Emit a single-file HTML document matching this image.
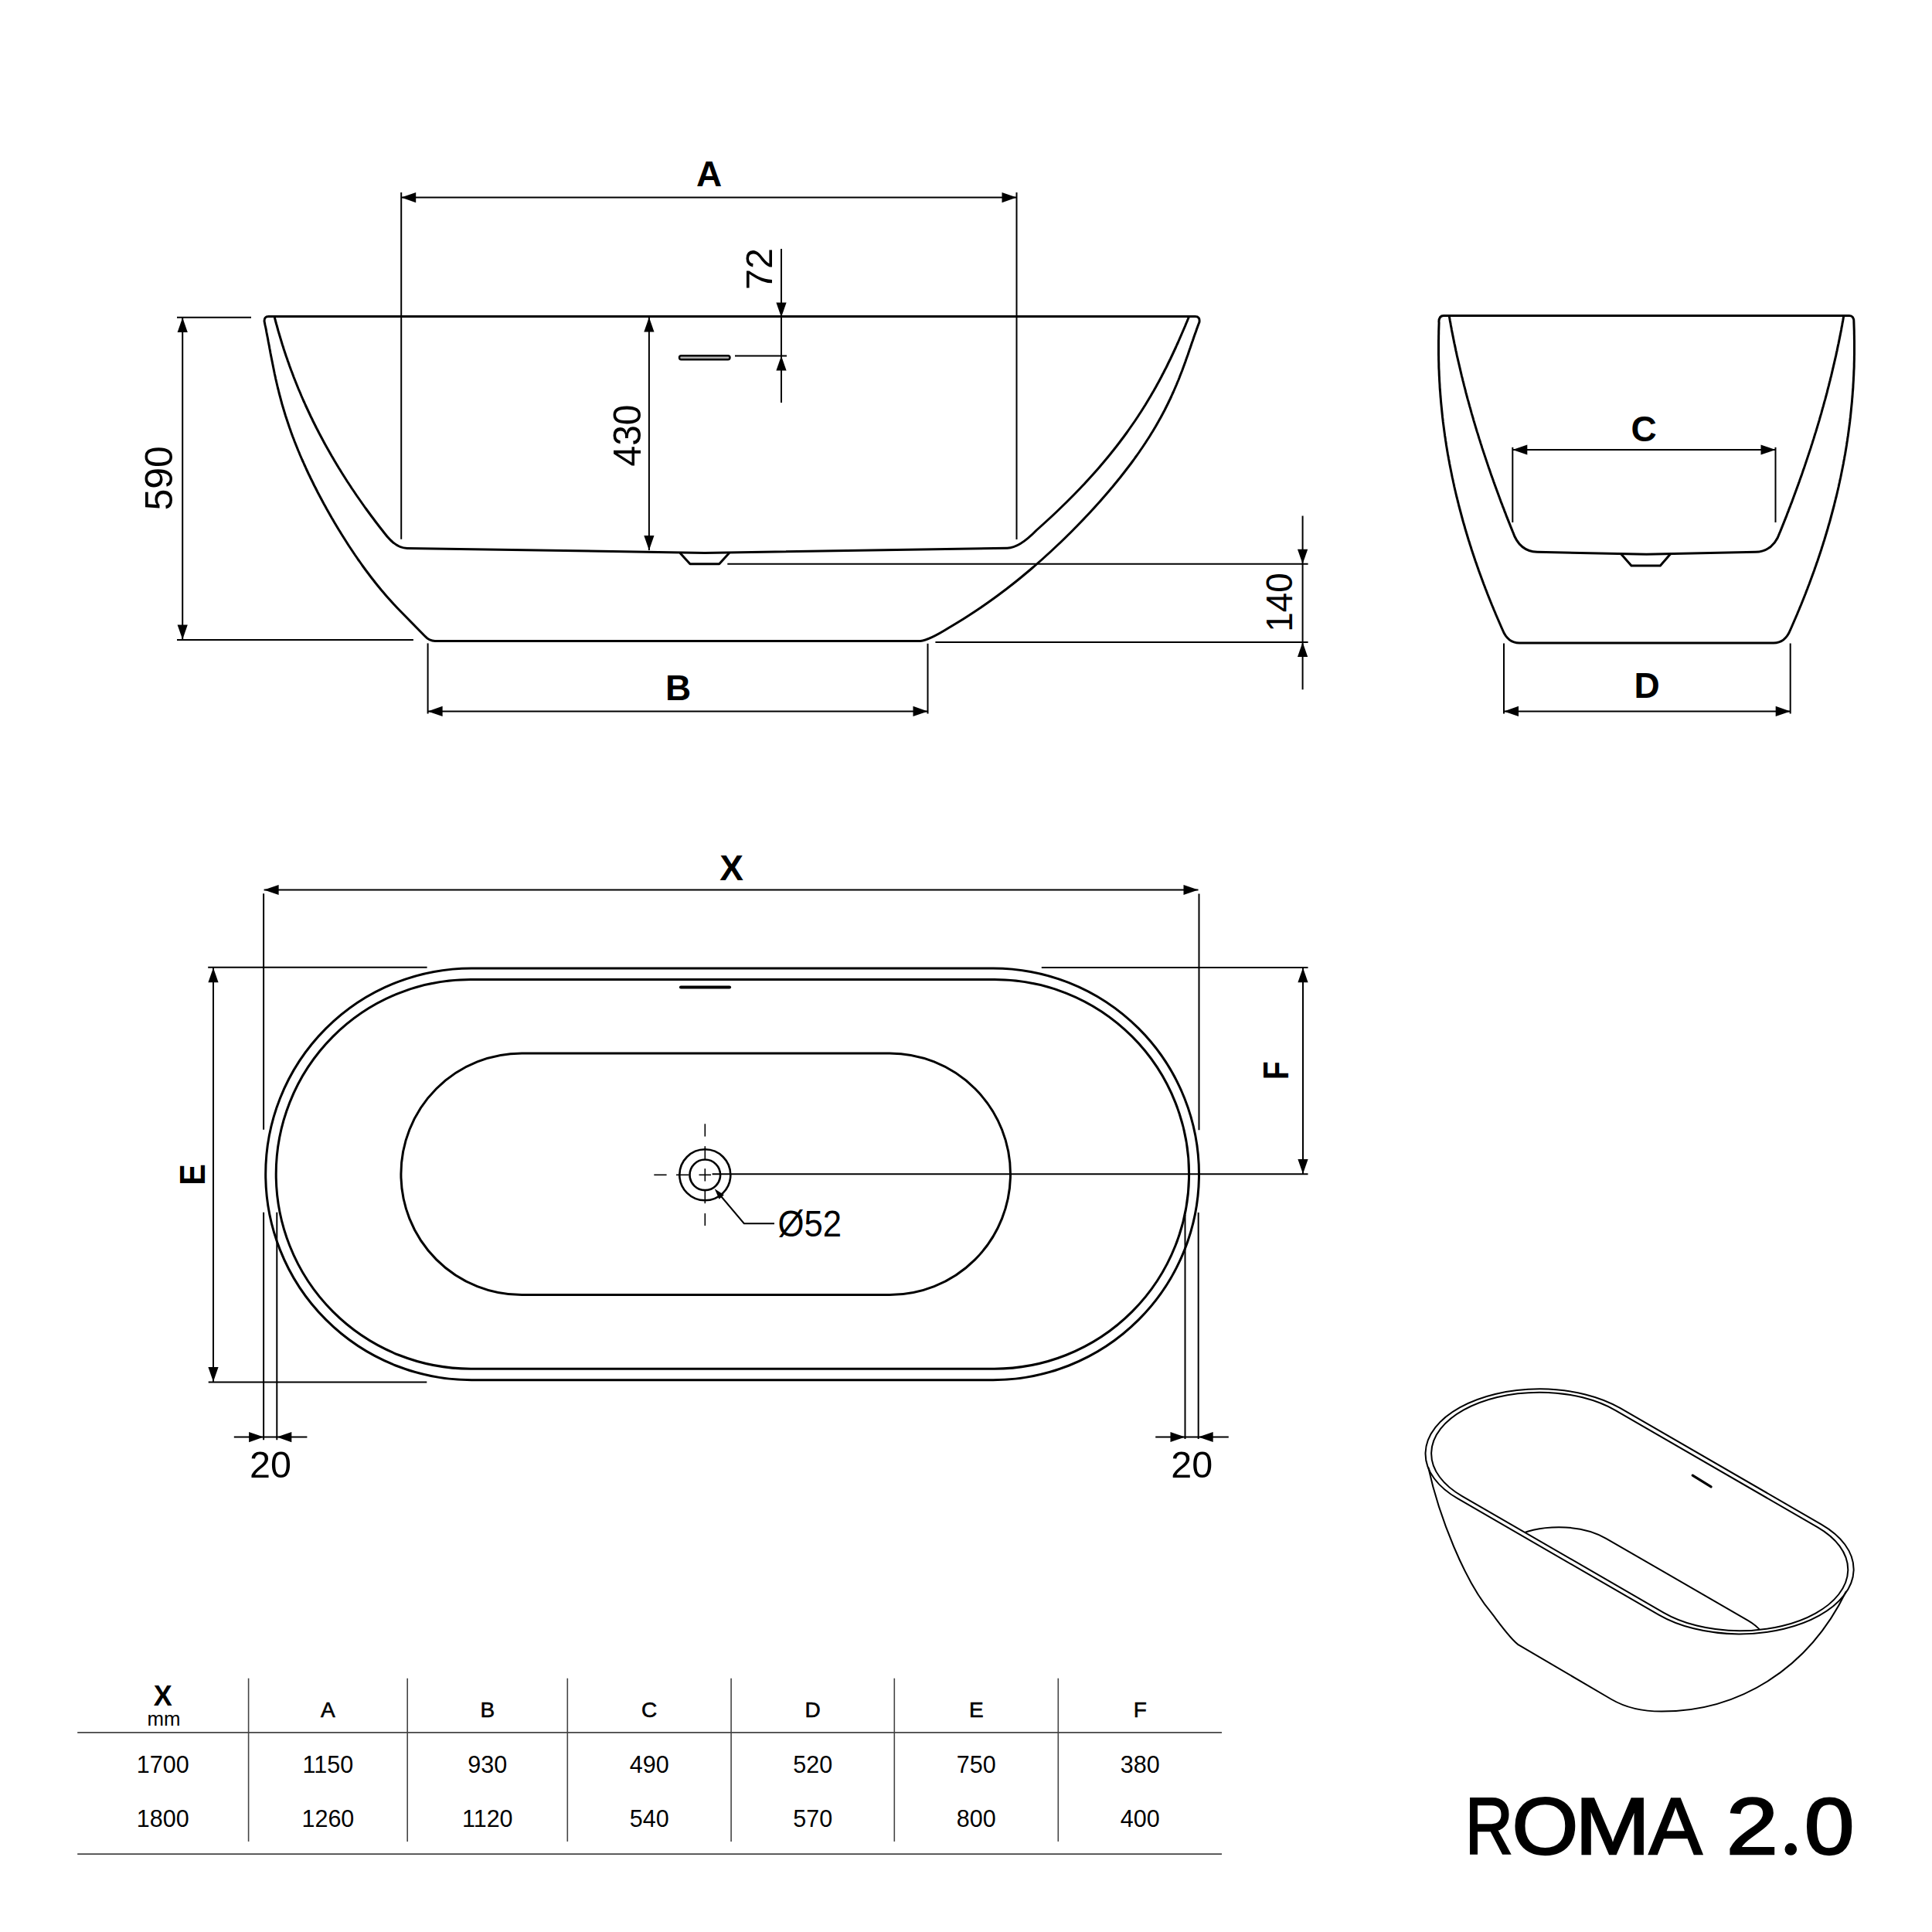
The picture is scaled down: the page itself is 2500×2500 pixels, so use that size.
<!DOCTYPE html>
<html><head><meta charset="utf-8"><style>
html,body{margin:0;padding:0;background:#fff;width:2500px;height:2500px;overflow:hidden}
svg{display:block}
.o{fill:none;stroke:#000;stroke-width:3;stroke-linejoin:round;stroke-linecap:round}
.d{fill:none;stroke:#000;stroke-width:2}
.c{fill:none;stroke:#000;stroke-width:1.6}
.s2{stroke:#000;stroke-width:2}
.s25{fill:none;stroke:#000;stroke-width:2.6}
.t3{fill:none;stroke:#000;stroke-width:2;stroke-linejoin:round;vector-effect:non-scaling-stroke}
.tb line{stroke:#444;stroke-width:1.6}
text{font-family:"Liberation Sans",sans-serif;fill:#000}
.hm{stroke:#000;stroke-width:0.6}
.ti{stroke:#000;stroke-width:2.4;stroke-linejoin:miter}
</style></head><body>
<svg width="2500" height="2500" viewBox="0 0 2500 2500">
<rect width="2500" height="2500" fill="#fff"/>
<path class="o" d="M342.1 416 Q341.6 409.5 347.5 409.5 L1546.5 409.5 Q1553.1 409.5 1551.9 417 L1551.9 417 L1550.7 420 L1549.6 423 L1548.5 426 L1547.5 429 L1546.4 432 L1545.3 435 L1544.3 438 L1543.3 441 L1542.2 444 L1541.2 447 L1540.2 450 L1539.1 453 L1538.1 456 L1537.1 459 L1536 462 L1534.9 465 L1533.9 468 L1532.8 471 L1531.7 474 L1530.6 477 L1529.5 480 L1528.3 483 L1527.1 486 L1526 489 L1524.8 492 L1523.5 495 L1522.3 498 L1521 501 L1519.7 504 L1518.4 507 L1517 510 L1515.7 513 L1514.3 516 L1512.8 519 L1511.4 522 L1509.9 525 L1508.4 528 L1506.9 531 L1505.3 534 L1503.7 537 L1502.1 540 L1500.4 543 L1498.7 546 L1497 549 L1495.3 552 L1493.5 555 L1491.7 558 L1489.8 561 L1488 564 L1486.1 567 L1484.1 570 L1482.2 573 L1480.2 576 L1478.2 579 L1476.1 582 L1474.1 585 L1472 588 L1469.8 591 L1467.7 594 L1465.5 597 L1463.3 600 L1461 603 L1458.7 606 L1456.4 609 L1454.1 612 L1451.7 615 L1449.4 618 L1446.9 621 L1444.5 624 L1442 627 L1439.6 630 L1437 633 L1434.5 636 L1431.9 639 L1429.3 642 L1426.7 645 L1424.1 648 L1421.4 651 L1418.7 654 L1416 657 L1413.2 660 L1410.5 663 L1407.7 666 L1404.8 669 L1402 672 L1399.1 675 L1396.2 678 L1393.3 681 L1390.3 684 L1387.4 687 L1384.4 690 L1381.3 693 L1378.3 696 L1375.2 699 L1372.1 702 L1368.9 705 L1365.7 708 L1362.5 711 L1359.3 714 L1356 717 L1352.7 720 L1349.4 723 L1346 726 L1342.6 729 L1339.2 732 L1335.7 735 L1332.2 738 L1328.6 741 L1325 744 L1321.4 747 L1317.7 750 L1314 753 L1310.2 756 L1306.3 759 L1302.5 762 L1298.5 765 L1294.5 768 L1290.5 771 L1286.4 774 L1282.2 777 L1278 780 L1273.7 783 L1269.4 786 L1264.9 789 L1260.4 792 L1255.8 795 L1251.2 798 L1246.5 801 L1241.6 804 L1236.7 807 L1231.7 810 L1228.3 812 Q1202 828.5 1191 829.4 L563 829.4 Q555.5 829.4 549.7 823 L517.3 790 L517.3 790 L514.4 787 L511.6 784 L508.8 781 L506.1 778 L503.4 775 L500.7 772 L498.1 769 L495.6 766 L493 763 L490.6 760 L488.1 757 L485.7 754 L483.4 751 L481 748 L478.7 745 L476.5 742 L474.2 739 L472 736 L469.8 733 L467.7 730 L465.6 727 L463.4 724 L461.4 721 L459.3 718 L457.3 715 L455.3 712 L453.3 709 L451.3 706 L449.4 703 L447.5 700 L445.6 697 L443.7 694 L441.8 691 L440 688 L438.1 685 L436.3 682 L434.5 679 L432.7 676 L431 673 L429.2 670 L427.5 667 L425.8 664 L424.1 661 L422.4 658 L420.8 655 L419.1 652 L417.5 649 L415.9 646 L414.3 643 L412.7 640 L411.1 637 L409.6 634 L408.1 631 L406.5 628 L405.1 625 L403.6 622 L402.1 619 L400.7 616 L399.2 613 L397.8 610 L396.4 607 L395.1 604 L393.7 601 L392.4 598 L391 595 L389.7 592 L388.4 589 L387.2 586 L385.9 583 L384.7 580 L383.5 577 L382.3 574 L381.1 571 L380 568 L378.8 565 L377.7 562 L376.6 559 L375.6 556 L374.5 553 L373.5 550 L372.5 547 L371.5 544 L370.5 541 L369.5 538 L368.6 535 L367.7 532 L366.8 529 L365.9 526 L365 523 L364.2 520 L363.4 517 L362.6 514 L361.8 511 L361 508 L360.3 505 L359.5 502 L358.8 499 L358.1 496 L357.4 493 L356.7 490 L356.1 487 L355.4 484 L354.8 481 L354.2 478 L353.6 475 L353 472 L352.4 469 L351.8 466 L351.2 463 L350.6 460 L350 457 L349.5 454 L348.9 451 L348.4 448 L347.8 445 L347.2 442 L346.7 439 L346.1 436 L345.5 433 L344.9 430 L344.4 427 L343.8 424 L343.1 421 L342.5 418 L342.1 416 Z"/>
<path class="o" d="M355.2 410 L355.9 413 L356.7 416 L357.5 419 L358.4 422 L359.2 425 L360 428 L360.9 431 L361.8 434 L362.7 437 L363.6 440 L364.5 443 L365.4 446 L366.4 449 L367.3 452 L368.3 455 L369.3 458 L370.3 461 L371.4 464 L372.4 467 L373.5 470 L374.5 473 L375.6 476 L376.7 479 L377.9 482 L379 485 L380.1 488 L381.3 491 L382.5 494 L383.7 497 L384.9 500 L386.1 503 L387.4 506 L388.7 509 L389.9 512 L391.2 515 L392.5 518 L393.9 521 L395.2 524 L396.6 527 L398 530 L399.4 533 L400.8 536 L402.2 539 L403.7 542 L405.1 545 L406.6 548 L408.1 551 L409.6 554 L411.2 557 L412.7 560 L414.3 563 L415.9 566 L417.5 569 L419.1 572 L420.7 575 L422.4 578 L424.1 581 L425.8 584 L427.5 587 L429.2 590 L431 593 L432.7 596 L434.5 599 L436.3 602 L438.1 605 L440 608 L441.8 611 L443.7 614 L445.6 617 L447.5 620 L449.4 623 L451.4 626 L453.4 629 L455.3 632 L457.4 635 L459.4 638 L461.4 641 L463.5 644 L465.6 647 L467.7 650 L469.8 653 L471.9 656 L474.1 659 L476.3 662 L478.5 665 L480.7 668 L483 671 L485.2 674 L487.5 677 L489.8 680 L492.1 683 L494.5 686 L496.8 689 L499.2 692 L500.8 694 Q513.6 709.4 527 709.4 L912 715.4 L1303.5 709.2 Q1319 709 1341.3 686 L1341.3 686 L1344.7 683 L1348 680 L1351.3 677 L1354.6 674 L1357.9 671 L1361.1 668 L1364.3 665 L1367.5 662 L1370.6 659 L1373.7 656 L1376.8 653 L1379.9 650 L1382.9 647 L1385.9 644 L1388.9 641 L1391.8 638 L1394.7 635 L1397.6 632 L1400.4 629 L1403.3 626 L1406 623 L1408.8 620 L1411.5 617 L1414.2 614 L1416.9 611 L1419.6 608 L1422.2 605 L1424.7 602 L1427.3 599 L1429.8 596 L1432.3 593 L1434.8 590 L1437.2 587 L1439.6 584 L1442 581 L1444.4 578 L1446.7 575 L1449 572 L1451.2 569 L1453.5 566 L1455.7 563 L1457.9 560 L1460 557 L1462.1 554 L1464.2 551 L1466.3 548 L1468.4 545 L1470.4 542 L1472.4 539 L1474.3 536 L1476.3 533 L1478.2 530 L1480.1 527 L1482 524 L1483.8 521 L1485.6 518 L1487.4 515 L1489.2 512 L1490.9 509 L1492.7 506 L1494.4 503 L1496.1 500 L1497.7 497 L1499.4 494 L1501 491 L1502.6 488 L1504.1 485 L1505.7 482 L1507.2 479 L1508.8 476 L1510.3 473 L1511.7 470 L1513.2 467 L1514.7 464 L1516.1 461 L1517.5 458 L1518.9 455 L1520.3 452 L1521.7 449 L1523 446 L1524.4 443 L1525.7 440 L1527 437 L1528.3 434 L1529.6 431 L1530.9 428 L1532.2 425 L1533.5 422 L1534.7 419 L1536 416 L1537.2 413 L1538.5 410"/>
<path class="o" d="M880.4 716 L892.9 729.7 L930.7 729.7 L943.2 716"/>
<rect x="879" y="460.2" width="65.5" height="5" rx="2.5" fill="#b0b0b0" stroke="#000" stroke-width="2.4"/>
<line class="d" x1="229" y1="410.8" x2="325" y2="410.8"/>
<line class="d" x1="229" y1="827.9" x2="534.9" y2="827.9"/>
<line class="d" x1="236.2" y1="411" x2="236.2" y2="827.6"/>
<path d="M236.2 411 L242.8 430 L229.6 430 Z"/>
<path d="M236.2 827.6 L229.6 808.6 L242.8 808.6 Z"/>
<text class="t" x="223" y="618.8" font-size="50" font-weight="400" text-anchor="middle" transform="rotate(-90 223 618.8)">590</text>
<line class="d" x1="519.2" y1="249" x2="519.2" y2="697.8"/>
<line class="d" x1="1315.5" y1="249" x2="1315.5" y2="698"/>
<line class="d" x1="519.2" y1="255.6" x2="1315.5" y2="255.6"/>
<path d="M519.2 255.6 L538.2 249 L538.2 262.2 Z"/>
<path d="M1315.5 255.6 L1296.5 262.2 L1296.5 249 Z"/>
<text class="b" x="917.7" y="240.7" font-size="46" font-weight="700" text-anchor="middle">A</text>
<line class="d" x1="839.9" y1="410.5" x2="839.9" y2="712"/>
<path d="M839.9 410.5 L846.5 429.5 L833.3 429.5 Z"/>
<path d="M839.9 712 L833.3 693 L846.5 693 Z"/>
<text class="t" x="829" y="563.5" font-size="50" font-weight="400" text-anchor="middle" transform="rotate(-90 829 563.5)" textLength="80" lengthAdjust="spacingAndGlyphs">430</text>
<line class="d" x1="1011" y1="322" x2="1011" y2="521"/>
<path d="M1011 410.5 L1004.4 391.5 L1017.6 391.5 Z"/>
<path d="M1011 460.5 L1017.6 479.5 L1004.4 479.5 Z"/>
<line class="d" x1="951" y1="460.5" x2="1018" y2="460.5"/>
<text class="t" x="998.5" y="348" font-size="48.5" font-weight="400" text-anchor="middle" transform="rotate(-90 998.5 348)">72</text>
<line class="d" x1="553.6" y1="832.4" x2="553.6" y2="923.5"/>
<line class="d" x1="1200.5" y1="832.8" x2="1200.5" y2="923.5"/>
<line class="d" x1="553.6" y1="920.4" x2="1200.5" y2="920.4"/>
<path d="M553.6 920.4 L572.6 913.8 L572.6 927 Z"/>
<path d="M1200.5 920.4 L1181.5 927 L1181.5 913.8 Z"/>
<text class="b" x="877.5" y="905.5" font-size="46" font-weight="700" text-anchor="middle">B</text>
<line class="d" x1="941.3" y1="729.8" x2="1692.6" y2="729.8"/>
<line class="d" x1="1210.4" y1="831" x2="1692.6" y2="831"/>
<line class="d" x1="1685.6" y1="667.5" x2="1685.6" y2="892.3"/>
<path d="M1685.6 729.8 L1679 710.8 L1692.2 710.8 Z"/>
<path d="M1685.6 831 L1692.2 850 L1679 850 Z"/>
<text class="t" x="1672" y="779.5" font-size="48.5" font-weight="400" text-anchor="middle" transform="rotate(-90 1672 779.5)" textLength="76.3" lengthAdjust="spacingAndGlyphs">140</text>
<path class="o" d="M1861.9 417 L1862.1 417 L1862 420 L1861.9 423 L1861.8 426 L1861.7 429 L1861.7 432 L1861.6 435 L1861.6 438 L1861.5 441 L1861.5 444 L1861.5 447 L1861.5 450 L1861.5 453 L1861.5 456 L1861.5 459 L1861.6 462 L1861.6 465 L1861.7 468 L1861.8 471 L1861.8 474 L1861.9 477 L1862.1 480 L1862.2 483 L1862.3 486 L1862.5 489 L1862.6 492 L1862.8 495 L1863 498 L1863.1 501 L1863.3 504 L1863.6 507 L1863.8 510 L1864 513 L1864.3 516 L1864.5 519 L1864.8 522 L1865.1 525 L1865.4 528 L1865.7 531 L1866 534 L1866.3 537 L1866.6 540 L1867 543 L1867.3 546 L1867.7 549 L1868.1 552 L1868.5 555 L1868.9 558 L1869.3 561 L1869.7 564 L1870.2 567 L1870.6 570 L1871.1 573 L1871.5 576 L1872 579 L1872.5 582 L1873 585 L1873.5 588 L1874.1 591 L1874.6 594 L1875.2 597 L1875.7 600 L1876.3 603 L1876.9 606 L1877.5 609 L1878.1 612 L1878.7 615 L1879.3 618 L1880 621 L1880.6 624 L1881.3 627 L1881.9 630 L1882.6 633 L1883.3 636 L1884 639 L1884.7 642 L1885.5 645 L1886.2 648 L1887 651 L1887.7 654 L1888.5 657 L1889.3 660 L1890.1 663 L1890.9 666 L1891.7 669 L1892.5 672 L1893.3 675 L1894.2 678 L1895.1 681 L1895.9 684 L1896.8 687 L1897.7 690 L1898.6 693 L1899.5 696 L1900.4 699 L1901.4 702 L1902.3 705 L1903.3 708 L1904.2 711 L1905.2 714 L1906.2 717 L1907.2 720 L1908.2 723 L1909.2 726 L1910.3 729 L1911.3 732 L1912.4 735 L1913.4 738 L1914.5 741 L1915.6 744 L1916.7 747 L1917.8 750 L1918.9 753 L1920 756 L1921.2 759 L1922.3 762 L1923.5 765 L1924.6 768 L1925.8 771 L1927 774 L1928.2 777 L1929.4 780 L1930.6 783 L1931.9 786 L1933.1 789 L1934.4 792 L1935.6 795 L1936.9 798 L1938.2 801 L1939.5 804 L1940.8 807 L1942.1 810 L1943.4 813 L1944.3 815 Q1951 832 1966 832 L2295 832 Q2310 832 2316.7 815 L2316.7 815 L2317.6 813 L2318.9 810 L2320.2 807 L2321.5 804 L2322.8 801 L2324.1 798 L2325.4 795 L2326.6 792 L2327.9 789 L2329.1 786 L2330.4 783 L2331.6 780 L2332.8 777 L2334 774 L2335.2 771 L2336.4 768 L2337.5 765 L2338.7 762 L2339.8 759 L2341 756 L2342.1 753 L2343.2 750 L2344.3 747 L2345.4 744 L2346.5 741 L2347.6 738 L2348.6 735 L2349.7 732 L2350.7 729 L2351.8 726 L2352.8 723 L2353.8 720 L2354.8 717 L2355.8 714 L2356.8 711 L2357.7 708 L2358.7 705 L2359.6 702 L2360.6 699 L2361.5 696 L2362.4 693 L2363.3 690 L2364.2 687 L2365.1 684 L2365.9 681 L2366.8 678 L2367.7 675 L2368.5 672 L2369.3 669 L2370.1 666 L2370.9 663 L2371.7 660 L2372.5 657 L2373.3 654 L2374 651 L2374.8 648 L2375.5 645 L2376.3 642 L2377 639 L2377.7 636 L2378.4 633 L2379.1 630 L2379.7 627 L2380.4 624 L2381 621 L2381.7 618 L2382.3 615 L2382.9 612 L2383.5 609 L2384.1 606 L2384.7 603 L2385.3 600 L2385.8 597 L2386.4 594 L2386.9 591 L2387.5 588 L2388 585 L2388.5 582 L2389 579 L2389.5 576 L2389.9 573 L2390.4 570 L2390.8 567 L2391.3 564 L2391.7 561 L2392.1 558 L2392.5 555 L2392.9 552 L2393.3 549 L2393.7 546 L2394 543 L2394.4 540 L2394.7 537 L2395 534 L2395.3 531 L2395.6 528 L2395.9 525 L2396.2 522 L2396.5 519 L2396.7 516 L2397 513 L2397.2 510 L2397.4 507 L2397.7 504 L2397.9 501 L2398 498 L2398.2 495 L2398.4 492 L2398.5 489 L2398.7 486 L2398.8 483 L2398.9 480 L2399.1 477 L2399.2 474 L2399.2 471 L2399.3 468 L2399.4 465 L2399.4 462 L2399.5 459 L2399.5 456 L2399.5 453 L2399.5 450 L2399.5 447 L2399.5 444 L2399.5 441 L2399.4 438 L2399.4 435 L2399.3 432 L2399.3 429 L2399.2 426 L2399.1 423 L2399 420 L2398.9 417 Q2399.1 408.6 2393 408.6 L1868 408.6 Q1861.9 408.6 1861.9 417"/>
<path class="o" d="M1875.2 408.6 L1875.7 411.6 L1876.2 414.6 L1876.8 417.6 L1877.3 420.6 L1877.9 423.6 L1878.4 426.6 L1879 429.6 L1879.6 432.6 L1880.2 435.6 L1880.8 438.6 L1881.4 441.6 L1882 444.6 L1882.7 447.6 L1883.3 450.6 L1883.9 453.6 L1884.6 456.6 L1885.2 459.6 L1885.9 462.6 L1886.6 465.6 L1887.3 468.6 L1888 471.6 L1888.7 474.6 L1889.4 477.6 L1890.1 480.6 L1890.8 483.6 L1891.5 486.6 L1892.3 489.6 L1893 492.6 L1893.8 495.6 L1894.5 498.6 L1895.3 501.6 L1896.1 504.6 L1896.8 507.6 L1897.6 510.6 L1898.4 513.6 L1899.2 516.6 L1900.1 519.6 L1900.9 522.6 L1901.7 525.6 L1902.6 528.6 L1903.4 531.6 L1904.2 534.6 L1905.1 537.6 L1906 540.6 L1906.8 543.6 L1907.7 546.6 L1908.6 549.6 L1909.5 552.6 L1910.4 555.6 L1911.3 558.6 L1912.3 561.6 L1913.2 564.6 L1914.1 567.6 L1915.1 570.6 L1916 573.6 L1917 576.6 L1917.9 579.6 L1918.9 582.6 L1919.9 585.6 L1920.9 588.6 L1921.9 591.6 L1922.9 594.6 L1923.9 597.6 L1924.9 600.6 L1925.9 603.6 L1926.9 606.6 L1928 609.6 L1929 612.6 L1930 615.6 L1931.1 618.6 L1932.2 621.6 L1933.2 624.6 L1934.3 627.6 L1935.4 630.6 L1936.5 633.6 L1937.6 636.6 L1938.7 639.6 L1939.8 642.6 L1940.9 645.6 L1942 648.6 L1943.2 651.6 L1944.3 654.6 L1945.5 657.6 L1946.6 660.6 L1947.8 663.6 L1948.9 666.6 L1950.1 669.6 L1951.3 672.6 L1952.5 675.6 L1953.7 678.6 L1954.9 681.6 L1956.1 684.6 L1957.3 687.6 L1957.5 688 Q1966 713.5 1989.1 714.3 L2130.5 717.2 L2271.9 714.3 Q2295 713.5 2303.5 688 L2303.5 688 L2303.7 687.6 L2304.9 684.6 L2306.1 681.6 L2307.3 678.6 L2308.5 675.6 L2309.7 672.6 L2310.9 669.6 L2312.1 666.6 L2313.2 663.6 L2314.4 660.6 L2315.5 657.6 L2316.7 654.6 L2317.8 651.6 L2319 648.6 L2320.1 645.6 L2321.2 642.6 L2322.3 639.6 L2323.4 636.6 L2324.5 633.6 L2325.6 630.6 L2326.7 627.6 L2327.8 624.6 L2328.8 621.6 L2329.9 618.6 L2331 615.6 L2332 612.6 L2333 609.6 L2334.1 606.6 L2335.1 603.6 L2336.1 600.6 L2337.1 597.6 L2338.1 594.6 L2339.1 591.6 L2340.1 588.6 L2341.1 585.6 L2342.1 582.6 L2343.1 579.6 L2344 576.6 L2345 573.6 L2345.9 570.6 L2346.9 567.6 L2347.8 564.6 L2348.7 561.6 L2349.7 558.6 L2350.6 555.6 L2351.5 552.6 L2352.4 549.6 L2353.3 546.6 L2354.2 543.6 L2355 540.6 L2355.9 537.6 L2356.8 534.6 L2357.6 531.6 L2358.4 528.6 L2359.3 525.6 L2360.1 522.6 L2360.9 519.6 L2361.8 516.6 L2362.6 513.6 L2363.4 510.6 L2364.2 507.6 L2364.9 504.6 L2365.7 501.6 L2366.5 498.6 L2367.2 495.6 L2368 492.6 L2368.7 489.6 L2369.5 486.6 L2370.2 483.6 L2370.9 480.6 L2371.6 477.6 L2372.3 474.6 L2373 471.6 L2373.7 468.6 L2374.4 465.6 L2375.1 462.6 L2375.8 459.6 L2376.4 456.6 L2377.1 453.6 L2377.7 450.6 L2378.3 447.6 L2379 444.6 L2379.6 441.6 L2380.2 438.6 L2380.8 435.6 L2381.4 432.6 L2382 429.6 L2382.6 426.6 L2383.1 423.6 L2383.7 420.6 L2384.2 417.6 L2384.8 414.6 L2385.3 411.6 L2385.8 408.6"/>
<path class="o" d="M2097.8 717 L2111 731.9 L2148.4 731.9 L2161.4 717"/>
<line class="d" x1="1957.3" y1="578.8" x2="1957.3" y2="676"/>
<line class="d" x1="2297.5" y1="578.8" x2="2297.5" y2="676"/>
<line class="d" x1="1957.3" y1="582" x2="2297.5" y2="582"/>
<path d="M1957.3 582 L1976.3 575.4 L1976.3 588.6 Z"/>
<path d="M2297.5 582 L2278.5 588.6 L2278.5 575.4 Z"/>
<text class="b" x="2127" y="571" font-size="46" font-weight="700" text-anchor="middle">C</text>
<line class="d" x1="1946" y1="832.5" x2="1946" y2="923.5"/>
<line class="d" x1="2316.7" y1="832.5" x2="2316.7" y2="923.5"/>
<line class="d" x1="1946" y1="920.4" x2="2316.7" y2="920.4"/>
<path d="M1946 920.4 L1965 913.8 L1965 927 Z"/>
<path d="M2316.7 920.4 L2297.7 927 L2297.7 913.8 Z"/>
<text class="b" x="2131" y="903.3" font-size="46" font-weight="700" text-anchor="middle">D</text>
<rect class="o" x="343.7" y="1252.9" width="1207.8" height="532.8" rx="266.4"/>
<rect class="o" x="357.2" y="1267.4" width="1181.4" height="503.8" rx="251.9"/>
<rect class="o" x="518.9" y="1363" width="788.6" height="312.6" rx="156.3"/>
<line x1="881" y1="1277.5" x2="944" y2="1277.5" stroke="#000" stroke-width="4.2" stroke-linecap="round"/>
<circle class="s25" cx="912.3" cy="1520.3" r="33"/>
<circle class="s25" cx="912.3" cy="1520.3" r="19.8"/>
<line class="c" x1="846.3" y1="1520.3" x2="862.6" y2="1520.3"/>
<line class="c" x1="875" y1="1520.3" x2="891.3" y2="1520.3"/>
<line class="c" x1="904.5" y1="1520.3" x2="920" y2="1520.3"/>
<line class="c" x1="912.3" y1="1454.3" x2="912.3" y2="1470.6"/>
<line class="c" x1="912.3" y1="1483.2" x2="912.3" y2="1499.8"/>
<line class="c" x1="912.3" y1="1512.2" x2="912.3" y2="1528.5"/>
<line class="c" x1="912.3" y1="1541" x2="912.3" y2="1557.2"/>
<line class="c" x1="912.3" y1="1570.1" x2="912.3" y2="1586"/>
<path class="d" d="M928 1542 L962.8 1583.2 L1002 1583.2"/>
<path d="M924.7 1538.3 L936.9 1546.3 L930.5 1551.7 Z"/>
<text class="t" x="1006.5" y="1599.5" font-size="48.5" font-weight="400" text-anchor="start" textLength="82.6" lengthAdjust="spacingAndGlyphs">&#216;52</text>
<line class="d" x1="341.1" y1="1156.3" x2="341.1" y2="1461.7"/>
<line class="d" x1="1551.5" y1="1156.4" x2="1551.5" y2="1462.3"/>
<line class="d" x1="341.6" y1="1151.5" x2="1550.5" y2="1151.5"/>
<path d="M341.6 1151.5 L360.6 1144.9 L360.6 1158.1 Z"/>
<path d="M1550.5 1151.5 L1531.5 1158.1 L1531.5 1144.9 Z"/>
<text class="b" x="946.5" y="1139.4" font-size="46" font-weight="700" text-anchor="middle">X</text>
<line class="d" x1="269.2" y1="1251.8" x2="552.6" y2="1251.8"/>
<line class="d" x1="269.7" y1="1788.4" x2="552.3" y2="1788.4"/>
<line class="d" x1="276" y1="1252.2" x2="276" y2="1788"/>
<path d="M276 1252.2 L282.6 1271.2 L269.4 1271.2 Z"/>
<path d="M276 1788 L269.4 1769 L282.6 1769 Z"/>
<text class="b" x="264.5" y="1520" font-size="46" font-weight="700" text-anchor="middle" transform="rotate(-90 264.5 1520)" textLength="27.5" lengthAdjust="spacingAndGlyphs">E</text>
<line class="d" x1="1347.8" y1="1251.9" x2="1692.5" y2="1251.9"/>
<line class="d" x1="921.6" y1="1519.3" x2="1692.5" y2="1519.3"/>
<line class="d" x1="1686" y1="1252.3" x2="1686" y2="1519"/>
<path d="M1686 1252.3 L1692.6 1271.3 L1679.4 1271.3 Z"/>
<path d="M1686 1519 L1679.4 1500 L1692.6 1500 Z"/>
<text class="b" x="1667.2" y="1385.2" font-size="46" font-weight="700" text-anchor="middle" transform="rotate(-90 1667.2 1385.2)" textLength="23.7" lengthAdjust="spacingAndGlyphs">F</text>
<line class="d" x1="341.1" y1="1568.7" x2="341.1" y2="1863.3"/>
<line class="d" x1="358.3" y1="1568.7" x2="358.3" y2="1863.3"/>
<line class="d" x1="302.8" y1="1859.6" x2="397.4" y2="1859.6"/>
<path d="M341.1 1859.6 L322.1 1866.2 L322.1 1853 Z"/>
<path d="M358.3 1859.6 L377.3 1853 L377.3 1866.2 Z"/>
<text class="t" x="350" y="1912" font-size="48.5" font-weight="400" text-anchor="middle">20</text>
<line class="d" x1="1533.5" y1="1572" x2="1533.5" y2="1862"/>
<line class="d" x1="1550.7" y1="1569" x2="1550.7" y2="1862"/>
<line class="d" x1="1495.2" y1="1859.5" x2="1589.8" y2="1859.5"/>
<path d="M1533.5 1859.5 L1514.5 1866.1 L1514.5 1852.9 Z"/>
<path d="M1550.7 1859.5 L1569.7 1852.9 L1569.7 1866.1 Z"/>
<text class="t" x="1542.3" y="1911.6" font-size="48.5" font-weight="400" text-anchor="middle">20</text>
<defs><clipPath id="cp"><rect x="357.2" y="1267.4" width="1181.4" height="503.8" rx="251.9" transform="matrix(0.38544 0.22281 -0.39475 0.21969 2356.09 1410.97)"/></clipPath></defs>
<rect class="t3" x="343.7" y="1252.9" width="1207.8" height="532.8" rx="266.4" transform="matrix(0.38544 0.22281 -0.39475 0.21969 2356.09 1410.97)"/>
<rect class="t3" x="357.2" y="1267.4" width="1181.4" height="503.8" rx="251.9" transform="matrix(0.38544 0.22281 -0.39475 0.21969 2356.09 1410.97)"/>
<g clip-path="url(#cp)"><rect class="t3" x="518.9" y="1363" width="788.6" height="312.6" rx="156.3" transform="matrix(0.38544 0.22281 -0.39475 0.21969 2356.11 1540.9)"/></g>
<path class="t3" d="M1848.2 1898.8 C1862 1962 1895 2046 1930 2087.2 C1937.4 2096.6 1955.8 2123.1 1966.2 2129.2 L2085.3 2199 C2105 2210.5 2125 2214.6 2150 2214.6 C2250 2214.6 2340 2160 2389 2059"/>
<line x1="2190.2" y1="1909.1" x2="2214.1" y2="1923.9" stroke="#000" stroke-width="3.2" stroke-linecap="round"/>
<g class="tb">
<line x1="100.2" y1="2241.9" x2="1581" y2="2241.9"/>
<line x1="100.2" y1="2399.1" x2="1581" y2="2399.1"/>
<line x1="321.6" y1="2171.7" x2="321.6" y2="2382.9"/>
<line x1="527.2" y1="2171.7" x2="527.2" y2="2382.9"/>
<line x1="734.3" y1="2171.7" x2="734.3" y2="2382.9"/>
<line x1="946.1" y1="2171.7" x2="946.1" y2="2382.9"/>
<line x1="1157.3" y1="2171.7" x2="1157.3" y2="2382.9"/>
<line x1="1369.3" y1="2171.7" x2="1369.3" y2="2382.9"/>
</g>
<text class="b" x="210.8" y="2206.8" font-size="36" font-weight="700" text-anchor="middle">X</text>
<text class="t" x="212" y="2233.2" font-size="25.8" font-weight="400" text-anchor="middle">mm</text>
<text class="t hm" x="424.4" y="2222" font-size="28" font-weight="400" text-anchor="middle">A</text>
<text class="t hm" x="630.8" y="2222" font-size="28" font-weight="400" text-anchor="middle">B</text>
<text class="t hm" x="840.2" y="2222" font-size="28" font-weight="400" text-anchor="middle">C</text>
<text class="t hm" x="1051.7" y="2222" font-size="28" font-weight="400" text-anchor="middle">D</text>
<text class="t hm" x="1263.3" y="2222" font-size="28" font-weight="400" text-anchor="middle">E</text>
<text class="t hm" x="1475.3" y="2222" font-size="28" font-weight="400" text-anchor="middle">F</text>
<text class="t" x="210.8" y="2293.8" font-size="30.5" font-weight="400" text-anchor="middle">1700</text>
<text class="t" x="210.8" y="2364.3" font-size="30.5" font-weight="400" text-anchor="middle">1800</text>
<text class="t" x="424.4" y="2293.8" font-size="30.5" font-weight="400" text-anchor="middle">1150</text>
<text class="t" x="424.4" y="2364.3" font-size="30.5" font-weight="400" text-anchor="middle">1260</text>
<text class="t" x="630.8" y="2293.8" font-size="30.5" font-weight="400" text-anchor="middle">930</text>
<text class="t" x="630.8" y="2364.3" font-size="30.5" font-weight="400" text-anchor="middle">1120</text>
<text class="t" x="840.2" y="2293.8" font-size="30.5" font-weight="400" text-anchor="middle">490</text>
<text class="t" x="840.2" y="2364.3" font-size="30.5" font-weight="400" text-anchor="middle">540</text>
<text class="t" x="1051.7" y="2293.8" font-size="30.5" font-weight="400" text-anchor="middle">520</text>
<text class="t" x="1051.7" y="2364.3" font-size="30.5" font-weight="400" text-anchor="middle">570</text>
<text class="t" x="1263.3" y="2293.8" font-size="30.5" font-weight="400" text-anchor="middle">750</text>
<text class="t" x="1263.3" y="2364.3" font-size="30.5" font-weight="400" text-anchor="middle">800</text>
<text class="t" x="1475.3" y="2293.8" font-size="30.5" font-weight="400" text-anchor="middle">380</text>
<text class="t" x="1475.3" y="2364.3" font-size="30.5" font-weight="400" text-anchor="middle">400</text>
<text class="ti" x="1927" y="2398.6" font-size="104" font-weight="400" text-anchor="middle" textLength="61.8" lengthAdjust="spacingAndGlyphs">R</text>
<text class="ti" x="1999.5" y="2398.6" font-size="104" font-weight="400" text-anchor="middle" textLength="85.8" lengthAdjust="spacingAndGlyphs">O</text>
<text class="ti" x="2086.8" y="2398.6" font-size="104" font-weight="400" text-anchor="middle" textLength="96.9" lengthAdjust="spacingAndGlyphs">M</text>
<text class="ti" x="2168.2" y="2398.6" font-size="104" font-weight="400" text-anchor="middle" textLength="68.8" lengthAdjust="spacingAndGlyphs">A</text>
<text class="ti" x="2267.4" y="2398.6" font-size="104" font-weight="400" text-anchor="middle" textLength="67.1" lengthAdjust="spacingAndGlyphs">2</text>
<text class="ti" x="2367" y="2398.6" font-size="104" font-weight="400" text-anchor="middle" textLength="64.7" lengthAdjust="spacingAndGlyphs">0</text>
<circle cx="2317.3" cy="2392.9" r="7.8" fill="#000"/>
</svg></body></html>
